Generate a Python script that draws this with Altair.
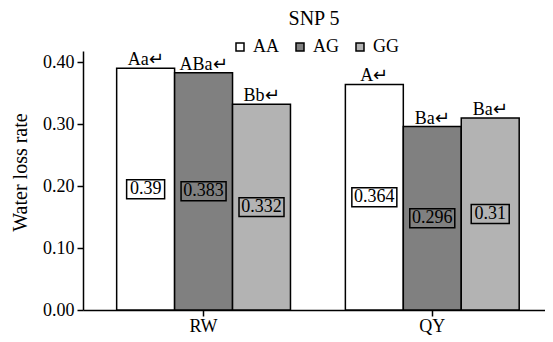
import altair as alt
import pandas as pd

groups = ["RW", "RW", "RW", "QY", "QY", "QY"]
genotypes = ["AA", "AG", "GG", "AA", "AG", "GG"]
values = [0.39, 0.383, 0.332, 0.364, 0.296, 0.31]
letters = ["Aa", "ABa", "Bb", "A", "Ba", "Ba"]
value_labels = ["0.39", "0.383", "0.332", "0.364", "0.296", "0.31"]

geno_order = ["AA", "AG", "GG"]
group_order = ["RW", "QY"]
colors = ["#ffffff", "#808080", "#b3b3b3"]

df = pd.DataFrame({
    "group": groups,
    "genotype": genotypes,
    "value": values,
    "top": [l + "\u21b5" for l in letters],
    "vlabel": value_labels,
})

FONT = "Liberation Serif"

x_enc = alt.X(
    "group:N", sort=group_order,
    scale=alt.Scale(paddingInner=0.24, paddingOuter=0.13, align=0.566),
    axis=alt.Axis(title=None, labelAngle=0, labelFont=FONT, labelFontSize=18,
                  labelColor="black", tickColor="black", tickSize=6, tickWidth=1.5,
                  domainColor="black", domainWidth=1.5, labelPadding=1),
)
xo_enc = alt.XOffset("genotype:N", sort=geno_order,
                     scale=alt.Scale(paddingInner=0, paddingOuter=0))

y_axis = alt.Axis(
    title="Water loss rate", values=[0, 0.1, 0.2, 0.3, 0.4], format=".2f",
    labelFont=FONT, labelFontSize=18, labelColor="black",
    tickColor="black", tickSize=6, tickWidth=1.5, labelPadding=3,
    domainColor="black", domainWidth=1.5, grid=False,
    titleFont=FONT, titleFontSize=20, titleFontWeight="normal", titleColor="black",
    titleX=-57, titleY=121, titleBaseline="alphabetic",
)
y_scale = alt.Scale(domain=[0, 0.418], nice=False)

color_enc = alt.Color(
    "genotype:N",
    scale=alt.Scale(domain=geno_order, range=colors),
    legend=alt.Legend(
        title=None, orient="none", legendX=148, legendY=-13, direction="horizontal",
        symbolType="square", symbolSize=64, symbolStrokeColor="black",
        symbolStrokeWidth=1.5, labelFont=FONT, labelFontSize=18, labelColor="black",
        labelOffset=4, columnPadding=12, padding=0,
    ),
)

base = alt.Chart(df)

bars = base.mark_bar(stroke="black", strokeWidth=1.5).encode(
    x=x_enc, xOffset=xo_enc,
    y=alt.Y("value:Q", scale=y_scale, axis=y_axis),
    color=color_enc,
)

tops = base.mark_text(baseline="alphabetic", dy=-3, font=FONT, fontSize=18,
                      color="black").encode(
    x=x_enc, xOffset=xo_enc,
    y=alt.Y("value:Q", scale=y_scale, axis=y_axis),
    text="top:N",
)

boxes = base.transform_calculate(
    lo="datum.value/2 - 0.0153",
    hi="datum.value/2 + 0.0153",
    bw="length(datum.vlabel)*7 + 10",
).mark_bar(stroke="black", strokeWidth=1.5).encode(
    x=x_enc, xOffset=xo_enc,
    y=alt.Y("lo:Q", scale=y_scale, axis=y_axis),
    y2="hi:Q",
    size=alt.Size("bw:Q", scale=None),
    color=color_enc,
)

vals = base.transform_calculate(mid="datum.value/2").mark_text(
    baseline="middle", font=FONT, fontSize=18, color="black"
).encode(
    x=x_enc, xOffset=xo_enc,
    y=alt.Y("mid:Q", scale=y_scale, axis=y_axis),
    text="vlabel:N",
)

chart = alt.layer(bars, tops, boxes, vals).properties(
    width=462, height=259,
    title=alt.Title("SNP 5", font=FONT, fontSize=20, fontWeight="normal",
                    color="black", anchor="middle", frame="group", offset=9),
    padding={"left": 75, "top": 43, "right": 0, "bottom": 30},
    autosize="none",
    background="white",
).configure_view(stroke=None)

chart.save("out.html", embed_options={"renderer": "svg", "actions": False})
